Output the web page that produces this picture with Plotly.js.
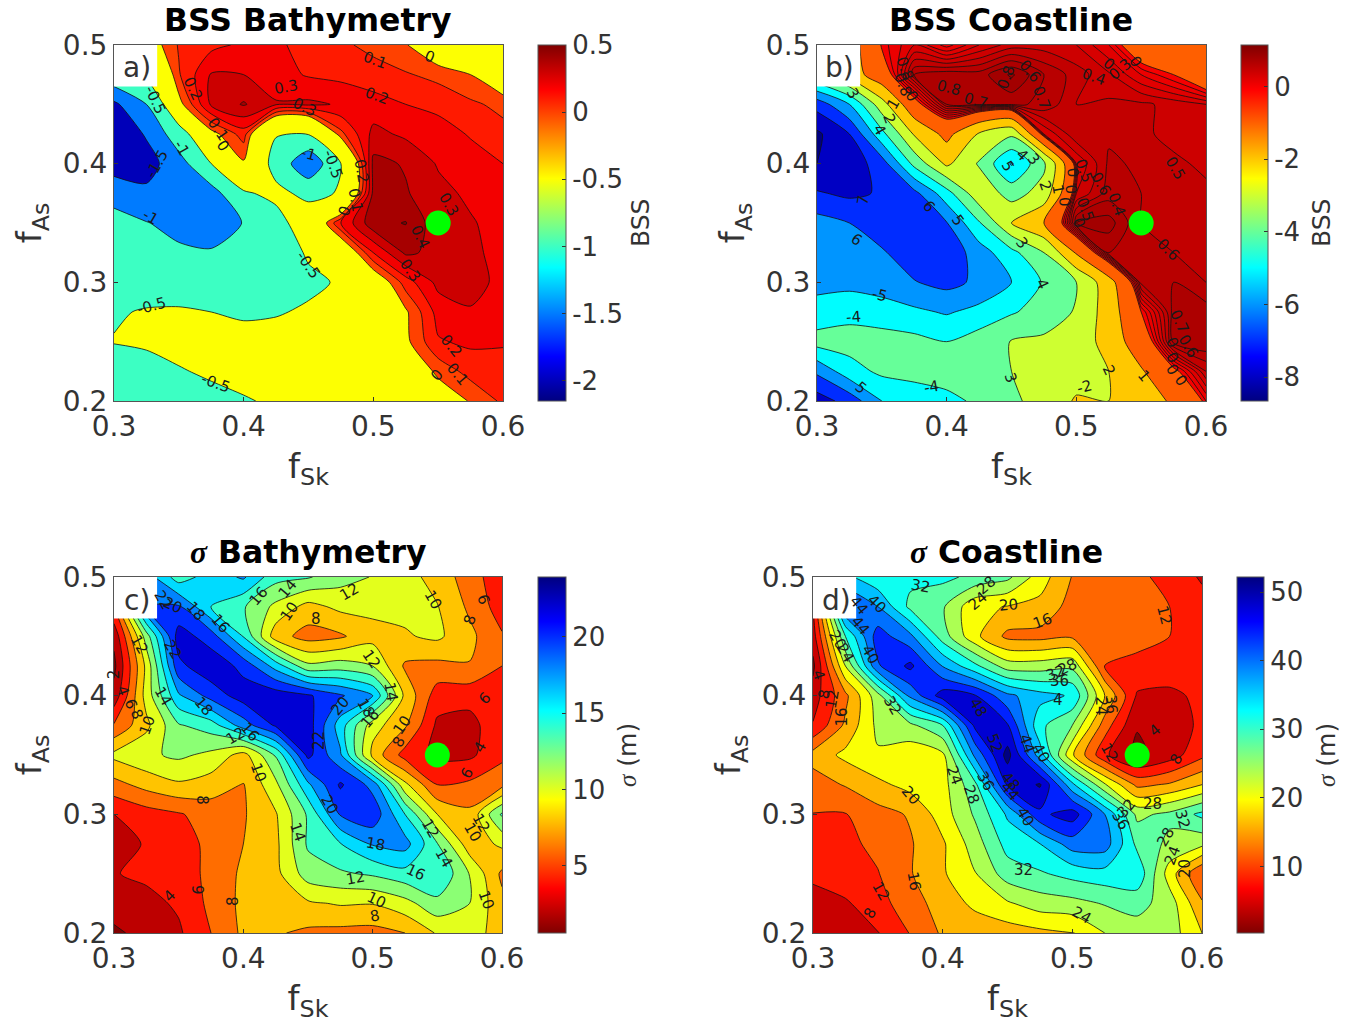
<!DOCTYPE html>
<html><head><meta charset="utf-8">
<script src="https://cdn.plot.ly/plotly-3.0.1.min.js"></script>
<style>html,body{margin:0;padding:0;background:#fff}</style>
</head><body><div id="chart" style="width:1352px;height:1028px"></div>
<script>
const fSk=[.3,.325,.35,.375,.4,.425,.45,.475,.5,.525,.55,.575,.6];
const fAs=[.5,.475,.45,.425,.4,.375,.35,.325,.3,.275,.25,.225,.2];
const bssBathy=[
[-.3,-.1,.11,.17,.22,.21,.18,.12,.07,.01,-.15,-.3,-.4],
[-.6,-.4,.09,.31,.30,.24,.19,.17,.145,.11,.07,.0,-.15],
[-1.6,-1.0,-.05,.32,.41,.31,.32,.29,.24,.2,.17,.12,.07],
[-1.9,-1.45,-.7,-.05,.15,-.48,-.48,.07,.33,.28,.25,.19,.135],
[-1.8,-1.7,-1.2,-.5,-.02,-.65,-1.4,-.5,.43,.39,.29,.25,.2],
[-1.1,-1.4,-1.35,-1.2,-.55,-.4,-.6,-.47,.43,.41,.33,.28,.24],
[-.9,-.98,-1.15,-1.3,-.98,-.65,-.25,.2,.47,.505,.33,.31,.26],
[-.85,-.9,-.92,-.95,-.95,-.75,-.45,-.2,.2,.42,.37,.32,.27],
[-.75,-.75,-.78,-.8,-.8,-.7,-.58,-.46,-.15,.15,.33,.34,.27],
[-.55,-.46,-.44,-.5,-.55,-.53,-.45,-.38,-.25,-.02,.24,.29,.23],
[-.48,-.44,-.37,-.38,-.38,-.35,-.3,-.27,-.2,-.03,.19,.22,.21],
[-.75,-.65,-.53,-.44,-.38,-.34,-.3,-.27,-.22,-.15,.03,.14,.16],
[-.9,-.8,-.7,-.62,-.53,-.45,-.38,-.32,-.27,-.2,-.1,.01,.12]];
const bssCoast=[
[-2,-1.5,.05,.3,.05,.3,.45,.45,.4,.2,-.3,-.7,-.8],
[-3,-1.6,-.3,.7,.78,.75,.92,.7,.55,.42,.2,0,-.4],
[-6.6,-5,-2.4,-.2,.7,.72,.72,.68,.5,.52,.52,.47,.4],
[-8.2,-7,-4.3,-1.9,-.7,-2.1,-2.8,.3,.58,.58,.52,.47,.45],
[-8,-7.6,-6.5,-3.7,-1.8,-3.1,-5.1,-3.2,.3,.62,.58,.52,.48],
[-6.9,-7.2,-6.9,-6.3,-4.4,-2.3,-3.4,-2.6,.4,.65,.6,.57,.52],
[-5.6,-6,-6.5,-6.7,-6.05,-4.1,-2,-1,.8,.85,.6,.58,.55],
[-5.5,-5.6,-5.9,-6.5,-6.7,-5.5,-4.3,-3,-.9,.7,.62,.6,.58],
[-5.3,-5.3,-5.5,-5.95,-6.3,-5.8,-5,-3.9,-3,-1.4,.65,.7,.6],
[-4.6,-4.3,-4.5,-4.8,-5.1,-4.7,-4.1,-3.6,-2.9,-1.5,0,.75,.75],
[-3.6,-3.6,-3.6,-3.7,-4,-3.5,-2.95,-2.8,-2.6,-1.6,-.4,.75,.8],
[-5.8,-4.4,-3.8,-3.6,-3.5,-3.4,-3,-2.8,-2.4,-2,-1.1,-.1,.5],
[-7.5,-6.6,-5,-4.7,-4.3,-3.8,-3.2,-2.6,-1.9,-2,-1.7,-.8,.1]];
const sigBathy=[
[8,19,15,16.9,18.3,14.7,14.2,12.8,11.9,10.8,9.2,7,4.6],
[6,20,20.2,16,14.2,11.5,9.3,10.5,10.5,10.5,10.1,7.6,5],
[2.5,13,23,21,15.9,8.9,7.2,7.7,9.3,9.8,10.4,8.5,6.2],
[1.5,10.5,21.5,23.4,21.4,17.2,12.5,13,12,7.7,7.4,7.9,6],
[2.7,10.8,17.7,20.8,23,23.2,22.3,20.3,18,9.5,5,4.7,6],
[6.2,9.5,13.8,15,19,22.3,23,17,10.9,8.3,3.6,3.3,5.5],
[10.5,11.6,12.4,11.5,9.2,14.2,22.6,18.3,9.3,5.2,3.5,3.6,5.5],
[7.3,8.7,9.7,9,7.9,11.5,17.6,22.3,19.3,10.5,6,6.4,7.4],
[4,5.1,5.8,6.9,7.8,9.8,14.3,20.2,21.4,16,10,8.5,14.3],
[3,4.2,5.1,6.5,8,9.5,14.3,15.9,18.2,18.8,14.1,8.8,10.4],
[3.9,4.4,5,6.5,8.4,9.4,13,13.7,14.3,15.3,16,11.9,7.6],
[3,3.4,4.3,6.5,8.5,8.7,9.7,10.2,10.1,11.3,13.4,12,8.5],
[1.6,2.7,3.7,6,8.4,8.2,7.6,7.4,7.3,8,10.2,10.5,9.5]];
const sigCoast=[
[10,37,33,33,33,31,29,22,15.8,14.5,13,10.5,7.5],
[8,44,40,31,28.5,21,19.8,18.8,14.5,14.4,13.5,12,9.5],
[6,32,46,41,30,21,15,14.7,15.3,13.5,13.2,12,11],
[3,24,43.5,49,39.8,33,26,26,27,11.9,11,10.5,10.6],
[6,15,26.5,41,50,48.3,41,37.5,35.5,20,7.5,7,9],
[8.3,16.8,25,27,32,49,48.4,33,28,14,4.3,5.8,8.8],
[17.5,21,23.5,21.5,23,41,53.5,38,20.5,8.8,3,6,11],
[14.2,16.3,19,21.4,22.5,31,48.5,52.5,37,24.5,15,16.5,20],
[11.9,11.8,14.5,16.4,22,28.6,36.6,47,50,40,27,29,33],
[10,11,13,15.6,19.4,26,33.5,35.9,42,42,31,27,25],
[9,10.4,11.8,15.7,19.5,23.8,30,31.5,33.4,34.5,35,22,12],
[6.2,7.5,10.3,14.5,17.5,21,23.5,26,26.7,28.3,29.5,26,16.5],
[5,6,7.8,12.2,16.6,17.2,18,19,19.7,24,26,26,20]];

const levelsA=[-2,-1.5,-1,-.5,0,.1,.2,.3,.4,.5];
const levelsB=[-8,-7,-6,-5,-4,-3,-2,-1,0,.1,.2,.3,.4,.5,.6,.7,.8,.9,1];
const levelsC=[2,4,6,8,10,12,14,16,18,20,22];
const levelsD=[4,8,12,16,20,24,28,32,36,40,44,48,52];

const labelsA=[["0.1",.501,.487,20],["0",.544,.49,20],["0.2",.503,.457,20],["0.3",.433,.465,-10],["0.3",.447,.448,25],["0.2",.361,.463,65],["0.1",.38,.429,55],["0",.384,.415,55],["-0.5",.332,.454,65],["-1",.352,.413,60],["-1.5",.333,.4,-60],["-1",.328,.355,30],["-0.5",.329,.28,-15],["-0.5",.45,.315,55],["-0.5",.378,.215,20],["-1",.45,.408,15],["-0.5",.469,.4,70],["0.2",.491,.394,80],["0.1",.486,.369,80],["0",.478,.36,-70],["0.3",.558,.366,60],["0.4",.536,.338,65],["0.3",.528,.31,55],["0.2",.56,.246,50],["0.1",.565,.223,50],["0",.549,.222,-50]];
const labelsB=[["0.5",.576,.396,60],["0.6",.571,.327,45],["3",.328,.459,60],["1",.359,.45,-60],["2",.356,.438,70],["4",.348,.428,60],["7",.336,.369,-80],["6",.386,.364,50],["5",.409,.352,55],["6",.331,.336,35],["3",.458,.333,50],["4",.474,.299,65],["-5",.348,.289,15],["-4",.328,.271,-5],["5",.334,.211,40],["-4",.388,.212,-10],["3",.449,.219,70],["-2",.506,.212,-15],["2",.525,.226,65],["1",.552,.221,50],["5",.447,.398,60],["4",.458,.407,45],["3",.467,.404,50],["2",.476,.381,70],["1",.486,.378,80],["0.8",.402,.464,15],["0.7",.423,.453,15],["0.8",.446,.473,-70],["0.6",.464,.478,50],["0.7",.473,.455,70],["0.4",.514,.473,20],["0.3",.534,.48,-40],["0",.525,.484,40],["0",.546,.486,60],["0.8",.368,.48,70],["0.8",.366,.467,70],["0",.373,.457,60],["0.7",.579,.267,65],["0.6",.586,.246,60],["0",.574,.249,65],["0",.574,.236,60],["0",.574,.226,60],["0",.581,.217,55],["0.5",.506,.394,70],["0",.497,.392,85],["0.6",.519,.383,60],["0",.496,.378,85],["0",.491,.368,85],["0.5",.507,.361,70],["0.4",.531,.366,70],["0",.502,.35,70]];
const labelsC=[["20",.345,.476,25],["22",.338,.481,60],["18",.363,.471,50],["16",.382,.461,50],["16",.412,.484,-50],["14",.434,.49,-50],["12",.482,.487,-30],["10",.547,.481,60],["6",.586,.481,70],["8",.575,.464,-70],["10",.436,.471,-55],["8",.456,.465,0],["12",.32,.443,60],["22",.345,.439,60],["12",.499,.431,55],["14",.514,.403,80],["14",.338,.4,60],["18",.369,.391,50],["2",.3,.418,-90],["4",.307,.404,70],["6",.313,.393,70],["8",.318,.384,70],["10",.326,.375,-70],["20",.475,.391,-50],["18",.495,.39,60],["16",.498,.38,-50],["10",.523,.375,-55],["8",.52,.361,-60],["6",.587,.398,-45],["22",.458,.362,-90],["16",.405,.369,50],["12",.394,.366,-30],["4",.583,.357,-60],["6",.573,.335,-60],["10",.412,.335,70],["8",.368,.312,90],["20",.467,.308,60],["14",.442,.285,70],["18",.502,.275,10],["12",.545,.288,60],["14",.555,.263,60],["16",.533,.251,25],["12",.487,.246,-10],["10",.503,.228,25],["8",.502,.214,-10],["10",.588,.228,70],["12",.584,.293,60],["10",.577,.285,60],["4",.343,.231,-45],["6",.366,.237,-90],["8",.392,.227,-90]];
const labelsD=[["32",.383,.492,10],["28",.434,.493,-40],["24",.427,.48,-40],["20",.451,.476,-5],["16",.477,.463,-20],["12",.571,.468,75],["40",.349,.477,45],["44",.335,.476,50],["44",.337,.459,50],["40",.344,.435,60],["28",.496,.424,-25],["32",.487,.419,-20],["36",.49,.412,0],["4",.489,.396,0],["48",.428,.39,60],["32",.361,.392,60],["52",.44,.36,70],["44",.465,.359,70],["40",.476,.352,60],["48",.452,.328,50],["44",.452,.32,50],["36",.433,.328,60],["24",.409,.333,70],["28",.422,.317,70],["20",.375,.316,50],["40",.464,.298,60],["32",.542,.305,-50],["36",.537,.295,60],["28",.562,.309,0],["32",.585,.296,75],["28",.572,.281,-60],["24",.577,.265,-70],["20",.587,.254,-90],["32",.462,.253,0],["24",.507,.215,30],["16",.378,.244,80],["12",.352,.235,60],["8",.344,.217,-60],["4",.564,.371,-40],["8",.58,.347,-60],["12",.529,.352,60],["16",.322,.382,-90],["12",.315,.397,-80],["8",.309,.401,-80],["4",.304,.417,70],["24",.325,.436,60],["20",.319,.447,60],["36",.53,.393,85],["24",.522,.391,90]];

const W=1352,H=1028,FONT='"DejaVu Sans",sans-serif',INK='#333333';
const SIGMA='<span style="font-family:\'Liberation Serif\',serif"><i>σ</i></span>';
function jet(t){t=Math.max(0,Math.min(1,t));
  const f=(a)=>Math.round(255*Math.max(0,Math.min(1,1.5-Math.abs(4*t-a))));
  return `rgb(${f(3)},${f(2)},${f(1)})`;}
const panels=[
 {id:'',z:bssBathy,levels:levelsA,labels:labelsA,rev:false,min:-2.15,max:.5,ticks:[-2,-1.5,-1,-.5,0,.5],ttxt:['-2','-1.5','-1','-0.5','0','0.5'],box:[114,503,45,401],cb:[538,566],letter:'a)',title:'BSS Bathymetry',tx:308,ty:20,cbt:'BSS',cbx:640},
 {id:'2',z:bssCoast,levels:levelsB,labels:labelsB,rev:false,min:-8.65,max:1.14,ticks:[-8,-6,-4,-2,0],ttxt:['-8','-6','-4','-2','0'],box:[817,1206,45,401],cb:[1241,1268],letter:'b)',title:'BSS Coastline',tx:1011,ty:20,cbt:'BSS',cbx:1321},
 {id:'3',z:sigBathy,levels:levelsC,labels:labelsC,rev:true,min:.6,max:23.93,ticks:[5,10,15,20],ttxt:['5','10','15','20'],box:[114,502,577,933],cb:[538,566],letter:'c)',title:SIGMA+' Bathymetry',tx:308,ty:552,cbt:SIGMA+' (m)',cbx:627},
 {id:'4',z:sigCoast,levels:levelsD,labels:labelsD,rev:true,min:.3,max:52.2,ticks:[10,20,30,40,50],ttxt:['10','20','30','40','50'],box:[813,1202,577,933],cb:[1237,1264],letter:'d)',title:SIGMA+' Coastline',tx:1006,ty:552,cbt:SIGMA+' (m)',cbx:1326}];
const traces=[],shapes=[],annos=[];
const layout={width:W,height:H,margin:{l:0,r:0,t:0,b:0},paper_bgcolor:'#fff',plot_bgcolor:'#fff',showlegend:false,font:{family:FONT,color:INK}};
panels.forEach(p=>{
  const xa='x'+p.id,ya='y'+p.id;
  const col=v=>{const u=(v-p.min)/(p.max-p.min);return jet(p.rev?1-u:u);};
  const ax={range:[.3,.6],tickvals:[.3,.4,.5,.6],ticktext:['0.3','0.4','0.5','0.6'],ticks:'inside',ticklen:4,tickcolor:INK,showline:true,mirror:true,linecolor:'#555',linewidth:1,showgrid:false,zeroline:false,tickfont:{family:FONT,size:28,color:INK}};
  layout['xaxis'+p.id]=Object.assign({},ax,{domain:[p.box[0]/W,p.box[1]/W],anchor:ya,title:{text:'f<sub>Sk</sub>',font:{family:FONT,size:34,color:INK},standoff:12}});
  layout['yaxis'+p.id]=Object.assign({},ax,{range:[.2,.5],tickvals:[.2,.3,.4,.5],ticktext:['0.2','0.3','0.4','0.5'],domain:[1-p.box[3]/H,1-p.box[2]/H],anchor:xa,title:{text:'f<sub>As</sub>',font:{family:FONT,size:34,color:INK},standoff:10}});
  const zmax=Math.max(...p.z.flat());
  shapes.push({type:'rect',layer:'below',xref:xa,yref:ya,x0:.3,x1:.6,y0:.2,y1:.5,fillcolor:col(p.rev?p.min:p.levels[0]-1),line:{width:0}});
  p.levels.filter(l=>l<zmax).forEach(l=>{
    traces.push({type:'contour',x:fSk,y:fAs,z:p.z,xaxis:xa,yaxis:ya,showscale:false,hoverinfo:'skip',
      contours:{type:'constraint',operation:'<=',value:l},fillcolor:col(l),line:{color:'#111',width:.8,smoothing:.7}});
  });
  const cs=[];for(let i=0;i<=32;i++){const u=i/32;cs.push([u,jet(p.rev?1-u:u)]);}
  traces.push({type:'scatter',mode:'markers',x:[.55],y:[.35],xaxis:xa,yaxis:ya,hoverinfo:'skip',
    marker:{size:25,color:[(p.min+p.max)/2],cmin:p.min,cmax:p.max,colorscale:cs,showscale:true,opacity:0,
    colorbar:{x:p.cb[0]/W,xanchor:'left',thickness:p.cb[1]-p.cb[0],thicknessmode:'pixels',y:1-p.box[3]/H,yanchor:'bottom',len:356,lenmode:'pixels',xpad:0,ypad:0,outlinecolor:'#555',outlinewidth:1,ticks:'inside',ticklen:4,tickcolor:INK,tickvals:p.ticks,ticktext:p.ttxt,tickfont:{family:FONT,size:26,color:INK}}}});
  traces.push({type:'scatter',mode:'markers',x:[.55],y:[.35],xaxis:xa,yaxis:ya,marker:{color:'#00ff00',size:25,line:{width:0}},hoverinfo:'skip'});
  shapes.push({type:'rect',layer:'above',xref:xa,yref:ya,x0:.3,x1:.3333,y0:.465,y1:.5,fillcolor:'#fff',line:{width:0}});
  annos.push({xref:'paper',yref:'paper',x:(p.box[0]+23)/W,y:1-(p.box[2]+23)/H,text:p.letter,showarrow:false,xanchor:'center',yanchor:'middle',font:{family:FONT,size:28,color:INK}});
  annos.push({xref:'paper',yref:'paper',x:p.tx/W,y:1-p.ty/H,text:'<b>'+p.title+'</b>',showarrow:false,xanchor:'center',yanchor:'middle',font:{family:FONT,size:31.5,color:'#000'}});
  annos.push({xref:'paper',yref:'paper',x:p.cbx/W,y:1-(p.box[2]+178)/H,text:p.cbt,textangle:-90,showarrow:false,xanchor:'center',yanchor:'middle',font:{family:FONT,size:25,color:INK}});
  p.labels.forEach(q=>annos.push({xref:xa,yref:ya,x:q[1],y:q[2],text:q[0],textangle:q[3],showarrow:false,font:{family:FONT,size:15,color:'#1a1a1a'}}));
});
layout.shapes=shapes;layout.annotations=annos;
Plotly.newPlot('chart',traces,layout,{staticPlot:true,displayModeBar:false});
</script></body></html>
